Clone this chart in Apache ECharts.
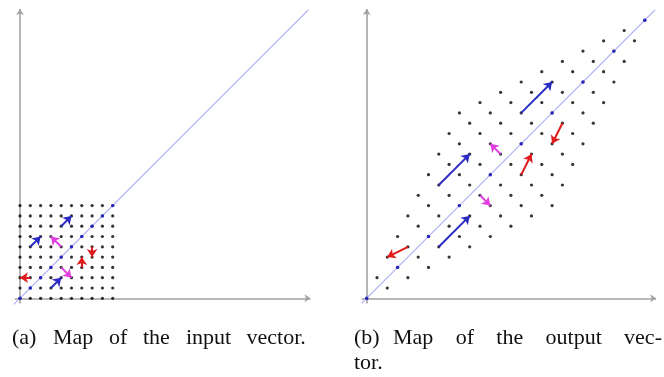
<!DOCTYPE html>
<html>
<head>
<meta charset="utf-8">
<script src="https://cdn.jsdelivr.net/npm/echarts@6/dist/echarts.min.js"></script>
<style>
  html, body { margin: 0; padding: 0; background: #fff; }
  #chart { width: 664px; height: 377px; }
</style>
</head>
<body>
<div id="chart"></div>
<script>
// input lattice: columns and rows of the input grid
const inputCols = [0, 1, 2, 3, 4, 5, 6, 7, 8, 9];
const inputRows = [0, 1, 2, 3, 4, 5, 6, 7, 8, 9];
const inputDiag = [[0, 0], [1, 1], [2, 2], [3, 3], [4, 4], [5, 5], [6, 6], [7, 7], [8, 8], [9, 9]];

// output lattice, one row of the input grid per line
const outputDots = [
  [0, 0], [2, 1], [4, 2], [6, 3], [8, 4], [10, 5], [12, 6], [14, 7], [16, 8], [18, 9],
  [1, 2], [3, 3], [5, 4], [7, 5], [9, 6], [11, 7], [13, 8], [15, 9], [17, 10], [19, 11],
  [2, 4], [4, 5], [6, 6], [8, 7], [10, 8], [12, 9], [14, 10], [16, 11], [18, 12], [20, 13],
  [3, 6], [5, 7], [7, 8], [9, 9], [11, 10], [13, 11], [15, 12], [17, 13], [19, 14], [21, 15],
  [4, 8], [6, 9], [8, 10], [10, 11], [12, 12], [14, 13], [16, 14], [18, 15], [20, 16], [22, 17],
  [5, 10], [7, 11], [9, 12], [11, 13], [13, 14], [15, 15], [17, 16], [19, 17], [21, 18], [23, 19],
  [6, 12], [8, 13], [10, 14], [12, 15], [14, 16], [16, 17], [18, 18], [20, 19], [22, 20], [24, 21],
  [7, 14], [9, 15], [11, 16], [13, 17], [15, 18], [17, 19], [19, 20], [21, 21], [23, 22], [25, 23],
  [8, 16], [10, 17], [12, 18], [14, 19], [16, 20], [18, 21], [20, 22], [22, 23], [24, 24], [26, 25],
  [9, 18], [11, 19], [13, 20], [15, 21], [17, 22], [19, 23], [21, 24], [23, 25], [25, 26], [27, 27]
];
const outputDiag = [[0, 0], [3, 3], [6, 6], [9, 9], [12, 12], [15, 15], [18, 18], [21, 21], [24, 24], [27, 27]];

// vectors [from, to]
const inputBlue = [[[4, 7], [5, 8]], [[1, 5], [2, 6]], [[3, 1], [4, 2]]];
const inputMagenta = [[[4, 5], [3, 6]], [[4, 3], [5, 2]]];
const inputRed = [[[1, 2], [0, 2]], [[6, 3], [6, 4]], [[7, 5], [7, 4]]];

const outputBlue = [[[15, 18], [18, 21]], [[7, 11], [10, 14]], [[7, 5], [10, 8]]];
const outputMagenta = [[[13, 14], [12, 15]], [[11, 10], [12, 9]]];
const outputRed = [[[4, 5], [2, 4]], [[15, 12], [16, 14]], [[19, 17], [18, 15]]];

// axes and diagonal
const inputAxes = [[[-0.5, 0], [28.2, 0]], [[0, -0.5], [0, 28.1]]];
const outputAxes = [[[-0.5, 0], [28.1, 0]], [[0, -0.5], [0, 28.1]]];
const inputDiagLine = [[[-0.6, -0.6], [28, 28]]];
const outputDiagLine = [[[-0.5, -0.5], [28, 28]]];

// caption words (the subfigure captions are justified, so words are set one by one)
const captionAWords = ['(a)', 'Map', 'of', 'the', 'input', 'vector.'];
const captionBWords = ['(b)', 'Map', 'of', 'the', 'output', 'vec-'];
const captionBLine2 = ['tor.'];

const captionAX = [12, 53, 109, 143, 186, 246.5];
const captionBX = [354, 393, 455.7, 496.3, 545.6, 624.1];

const inputDots = [];
inputRows.forEach(r => inputCols.forEach(c => inputDots.push([c, r])));

const chart = echarts.init(document.getElementById('chart'));

const toLines = arr => arr.map(v => ({ coords: v }));

const linesSeries = (idx, data, color, width, arrow, size, z) => ({
  type: 'lines',
  coordinateSystem: 'cartesian2d',
  xAxisIndex: idx,
  yAxisIndex: idx,
  data: toLines(data),
  symbol: arrow ? ['none', 'arrow'] : ['none', 'none'],
  symbolSize: size,
  lineStyle: { color: color, width: width, opacity: 1 },
  silent: true,
  z: z
});

const dotSeries = (idx, data, color, size, z) => ({
  type: 'scatter',
  xAxisIndex: idx,
  yAxisIndex: idx,
  data: data,
  symbolSize: size,
  itemStyle: { color: color },
  silent: true,
  z: z
});

const captionFont = '22px "Liberation Serif"';
const word = (text, x, y) => ({
  type: 'text',
  x: x,
  y: y,
  silent: true,
  style: { text: text, font: captionFont, fill: '#111', verticalAlign: 'middle' }
});

const captions = [];
captionAWords.forEach((w, i) => captions.push(word(w, captionAX[i], 338)));
captionBWords.forEach((w, i) => captions.push(word(w, captionBX[i], 338)));
captionBLine2.forEach((w, i) => captions.push(word(w, captionBX[i], 363)));

const axisCommon = { type: 'value', show: false, splitLine: { show: false } };

const option = {
  animation: false,
  backgroundColor: '#fff',
  grid: [
    { left: 9.7, top: 4, width: 303.85, height: 304.6 },
    { left: 356.4, top: 4, width: 303.85, height: 304.6 }
  ],
  xAxis: [
    Object.assign({ gridIndex: 0, min: -1, max: 28.5 }, axisCommon),
    Object.assign({ gridIndex: 1, min: -1, max: 28.5 }, axisCommon)
  ],
  yAxis: [
    Object.assign({ gridIndex: 0, min: -1, max: 28.575 }, axisCommon),
    Object.assign({ gridIndex: 1, min: -1, max: 28.575 }, axisCommon)
  ],
  graphic: captions,
  series: [
    linesSeries(0, inputAxes, '#a2a2a2', 1.6, true, 6, 1),
    linesSeries(0, inputDiagLine, '#a9a9f2', 1.1, false, 0, 2),
    dotSeries(0, inputDots, '#000', 3.2, 3),
    dotSeries(0, inputDiag, '#2626e6', 3.4, 4),
    linesSeries(0, inputBlue, '#2b2bc4', 2, true, 8, 5),
    linesSeries(0, inputMagenta, '#e03ee0', 2, true, 8, 5),
    linesSeries(0, inputRed, '#e01a1a', 2, true, 8, 5),

    linesSeries(1, outputAxes, '#a2a2a2', 1.6, true, 6, 1),
    linesSeries(1, outputDiagLine, '#a9a9f2', 1.1, false, 0, 2),
    dotSeries(1, outputDots, '#000', 3.2, 3),
    dotSeries(1, outputDiag, '#2626e6', 3.4, 4),
    linesSeries(1, outputBlue, '#2b2bc4', 2, true, 8, 5),
    linesSeries(1, outputMagenta, '#e03ee0', 2, true, 8, 5),
    linesSeries(1, outputRed, '#e01a1a', 2, true, 8, 5)
  ]
};

chart.setOption(option);
</script>
</body>
</html>
